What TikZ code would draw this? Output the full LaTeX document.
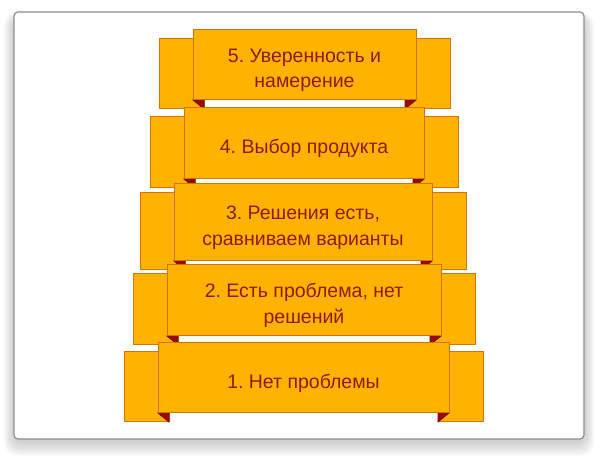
\documentclass[tikz,border=0pt]{standalone}
\usepackage{fontspec}
\setmainfont{Liberation Sans}
\frenchspacing
\definecolor{bandFill}{HTML}{FFB300}
\definecolor{bandLine}{HTML}{D0740C}
\definecolor{foldRed}{HTML}{990A00}
\definecolor{labelRed}{HTML}{8E1B06}
\tikzset{
  flap/.style={fill=bandFill, draw=bandLine, line width=0.5pt},
  fold/.style={fill=foldRed, draw=foldRed!80!black, line width=0.4pt},
  band/.style={fill=bandFill, draw=bandLine, line width=0.5pt, inner sep=0pt,
               text=labelRed, font=\fontsize{9.75}{12.6}\selectfont}
}
\newcommand{\ribbon}[6]{% name left top right bottom text
  \draw[flap] (#2-34,#3+9) rectangle (#2+11,#5+9);
  \draw[flap] (#4+34,#3+9) rectangle (#4-11,#5+9);
  \draw[fold] (#2,#5) -- (#2+11,#5) -- (#2+11,#5+9) -- cycle;
  \draw[fold] (#4,#5) -- (#4-11,#5) -- (#4-11,#5+9) -- cycle;
  \node[band, minimum width={(#4-#2)*0.5pt}, minimum height={(#5-#3)*0.5pt}]
    (#1) at ({(#2+#4)/2},{(#3+#5)/2})
    {\raisebox{-2.5pt}[\height][\depth]{\begin{tabular}{@{}c@{}}#6\end{tabular}}};
}

\begin{document}
\begin{tikzpicture}[x=0.5pt,y=-0.5pt]
  \useasboundingbox (0,0) rectangle (600,475);

  % soft shadow under the slide
  \foreach \k in {1,...,10} {
    \fill[black, opacity=0.018, rounded corners=6]
      (14-\k,12-\k*0.4+5) rectangle (584+\k,439+\k*1.4+3);
  }
  \draw[fill=white, draw=black!45, line width=0.6pt, rounded corners=2]
    (14,12) rectangle (584,439);

  % five ribbons, top one first so the lower ones lie over it
  \ribbon{rb5}{193}{30}{416}{100}{5. Уверенность и\\намерение}
  \ribbon{rb4}{184}{108}{424}{179}{4. Выбор продукта}
  \ribbon{rb3}{174}{184}{432}{261}{3. Решения есть,\\сравниваем варианты}
  \ribbon{rb2}{167}{265}{441}{336}{2. Есть проблема, нет\\решений}
  \ribbon{rb1}{158}{343}{449}{413}{1. Нет проблемы}
\end{tikzpicture}
\end{document}
